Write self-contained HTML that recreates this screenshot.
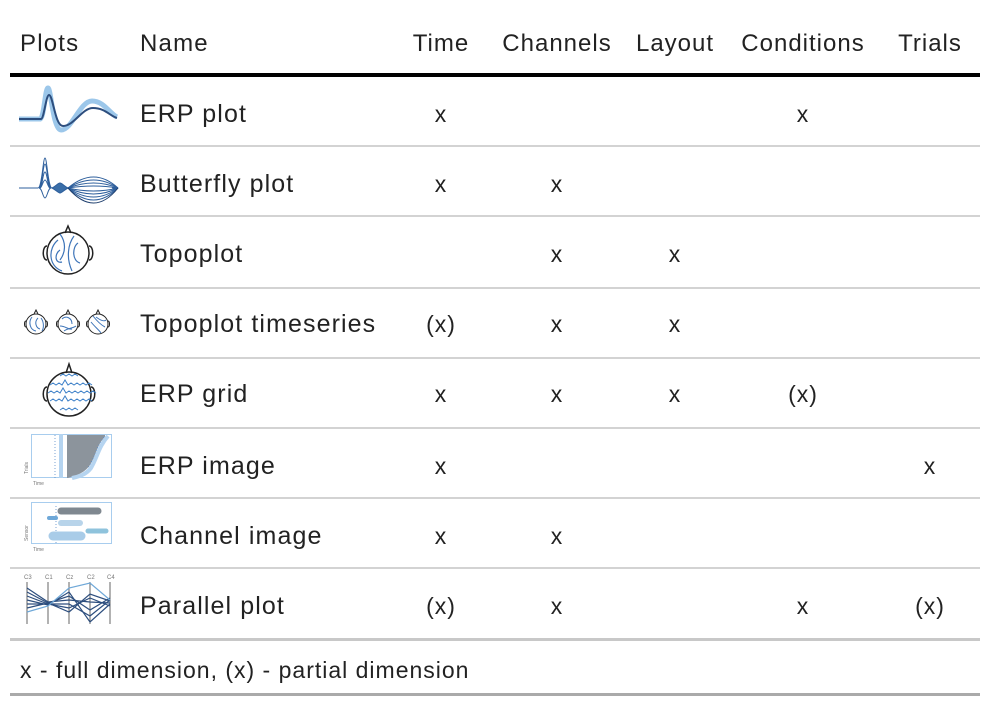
<!DOCTYPE html>
<html><head><meta charset="utf-8"><style>
body{margin:0;width:990px;height:704px;background:#fff;position:relative;font-family:"Liberation Sans",sans-serif;color:#222;overflow:hidden}
.t{position:absolute;font-size:25px;letter-spacing:1.1px;line-height:28px;white-space:nowrap}
.h{position:absolute;font-size:24px;letter-spacing:1.2px;line-height:28px;white-space:nowrap}
.c{position:absolute;font-size:23px;line-height:28px;transform:translateX(-50%);white-space:nowrap;letter-spacing:1px}
.l{position:absolute;left:10px;width:970px;background:#d3d3d3;height:2px}
svg{position:absolute;left:0;top:0}
</style></head><body>
<div class="h" style="left:20px;top:30px">Plots</div>
<div class="h" style="left:140px;top:30px">Name</div>
<div class="c" style="left:441px;top:30px;font-size:24px">Time</div>
<div class="c" style="left:557px;top:30px;font-size:24px">Channels</div>
<div class="c" style="left:675px;top:30px;font-size:24px">Layout</div>
<div class="c" style="left:803px;top:30px;font-size:24px">Conditions</div>
<div class="c" style="left:930px;top:30px;font-size:24px">Trials</div>
<div style="position:absolute;left:10px;top:73px;width:970px;height:4px;background:#000"></div>
<div class="l" style="top:145px"></div><div class="l" style="top:215px"></div><div class="l" style="top:287px"></div><div class="l" style="top:357px"></div><div class="l" style="top:427px"></div><div class="l" style="top:497px"></div><div class="l" style="top:567px"></div>
<div class="l" style="top:638px;height:3px;background:#c8c8c8"></div>
<div class="l" style="top:693px;height:3px;background:#aaa"></div>

<div class="t" style="left:140px;top:100px">ERP plot</div>
<div class="t" style="left:140px;top:170px">Butterfly plot</div>
<div class="t" style="left:140px;top:240px">Topoplot</div>
<div class="t" style="left:140px;top:310px">Topoplot timeseries</div>
<div class="t" style="left:140px;top:380px">ERP grid</div>
<div class="t" style="left:140px;top:452px">ERP image</div>
<div class="t" style="left:140px;top:522px">Channel image</div>
<div class="t" style="left:140px;top:592px">Parallel plot</div>

<div class="c" style="left:441px;top:100px">x</div><div class="c" style="left:803px;top:100px">x</div>
<div class="c" style="left:441px;top:170px">x</div><div class="c" style="left:557px;top:170px">x</div>
<div class="c" style="left:557px;top:240px">x</div><div class="c" style="left:675px;top:240px">x</div>
<div class="c" style="left:441px;top:310px">(x)</div><div class="c" style="left:557px;top:310px">x</div><div class="c" style="left:675px;top:310px">x</div>
<div class="c" style="left:441px;top:380px">x</div><div class="c" style="left:557px;top:380px">x</div><div class="c" style="left:675px;top:380px">x</div><div class="c" style="left:803px;top:380px">(x)</div>
<div class="c" style="left:441px;top:452px">x</div><div class="c" style="left:930px;top:452px">x</div>
<div class="c" style="left:441px;top:522px">x</div><div class="c" style="left:557px;top:522px">x</div>
<div class="c" style="left:441px;top:592px">(x)</div><div class="c" style="left:557px;top:592px">x</div><div class="c" style="left:803px;top:592px">x</div><div class="c" style="left:930px;top:592px">(x)</div>
<div class="t" style="left:20px;top:656px;font-size:23px;letter-spacing:1px">x - full dimension, (x) - partial dimension</div>

<svg width="990" height="704">
<g fill="none">
<!-- ERP -->
<path d="M19 119 H40 C44 119 45 88 48 88 C51 88 53 130 61 130 C72 130 80 101 92 101 C104 101 110 114 117 117" stroke="#9cc7ea" stroke-width="5"/>
<path d="M19 119 H41 C44 119 46 95 49 95 C53 95 55 126 63 126 C74 126 82 108 93 108 C105 108 110 116 117 118" stroke="#2d4e7e" stroke-width="2"/>
<!-- Butterfly -->
<g stroke="#2e5f9c" stroke-width="1">
<path d="M19 188 H38 M118 188 H112"/>
<path d="M38 188 C42 188 43 158 45 158 C47 158 48 188 52 188"/>
<path d="M39 188 C42 188 43 164 45 164 C47 164 48 188 51 188"/>
<path d="M40 188 C42 188 43 172 45 172 C47 172 48 188 50 188"/>
<path d="M40 188 C42 188 43 180 45 180 C47 180 48 188 50 188"/>
<path d="M39 188 C42 188 43 198 45 198 C47 198 48 188 51 188"/>
<path d="M52 188 C56 186 58 183 60 183 C62 183 64 186 68 188 C64 190 62 193 60 193 C58 193 56 190 52 188Z" fill="#3a6ea8"/>
<path d="M68 188 Q94 166 118 188"/><path d="M68 188 Q94 172 118 188"/><path d="M68 188 Q94 178 118 188"/><path d="M68 188 Q94 184 118 188"/>
<path d="M68 188 Q94 194 118 188"/><path d="M68 188 Q94 200 118 188"/><path d="M68 188 Q94 206 118 188"/><path d="M68 188 Q94 212 118 188"/><path d="M68 188 Q94 218 118 188" stroke="#1f3f6e"/>
</g>
<!-- Topoplot -->
<g stroke="#222" stroke-width="1.5">
<circle cx="68" cy="253" r="21"/>
<path d="M65 233 L68 226 L71 233 M47 246 C42 246 42 260 47 260 M89 246 C94 246 94 260 89 260"/>
</g>
<g stroke="#3d74b8" stroke-width="1.2">
<path d="M58 240 C48 248 48 266 62 271 M60 250 C54 254 55 264 62 262 M78 243 C72 247 72 261 80 263 M74 236 C68 244 66 258 72 271 M60 234 C66 242 66 252 60 260"/>
</g>
<!-- Timeseries -->
<g stroke="#222" stroke-width="1">
<circle cx="36" cy="324" r="10"/><circle cx="68" cy="324" r="10"/><circle cx="98" cy="324" r="10"/>
<path d="M34 314 L36 310 L38 314 M66 314 L68 310 L70 314 M96 314 L98 310 L100 314 M26 321 C24 321 24 327 26 327 M46 321 C48 321 48 327 46 327 M58 321 C56 321 56 327 58 327 M78 321 C80 321 80 327 78 327 M88 321 C86 321 86 327 88 327 M108 321 C110 321 110 327 108 327"/>
</g>
<g stroke="#3d74b8" stroke-width="1">
<path d="M32 317 C28 322 30 330 36 331 M38 318 C34 322 36 328 40 329 M41 318 C44 322 44 328 42 331 M62 319 C66 315 72 318 72 324 M60 326 C66 326 68 330 72 329 M64 331 C68 328 74 328 76 326 M93 316 C97 321 101 325 105 327 M91 322 C95 327 99 330 101 333 M96 317 C100 320 104 322 106 320"/>
</g>
<!-- ERP grid -->
<g stroke="#222" stroke-width="1.5">
<circle cx="69" cy="394" r="22"/>
<path d="M66 373 L69 364 L72 373 M47 387 C42 387 42 401 47 401 M91 387 C96 387 96 401 91 401"/>
</g>
<g stroke="#3d80c8" stroke-width="1">
<path d="M60 376 l3-2 3 2 3-2 3 2 3-2 3 2"/>
<path d="M50 385 l3-2 3 2 3-2 3 2 3 -5 3 5 3-2 3 2 3-2 3 2 3-2 3 2 3-2 3 2"/>
<path d="M48 393 l3-2 3 2 3-2 3 2 3 -5 3 5 3-2 3 2 3-2 3 2 3-2 3 2 3-2 3 2 3-2 3 2"/>
<path d="M50 401 l3-2 3 2 3-2 3 2 3 -5 3 5 3-2 3 2 3-2 3 2 3-2 3 2 3-2 3 2"/>
<path d="M60 410 l3-2 3 2 3-2 3 2 3-2 3 2"/>
</g>
<!-- ERP image -->
<rect x="31.5" y="434.5" width="80" height="43" stroke="#a8cdee"/>
<path d="M61 434 V478" stroke="#b5d4f0" stroke-width="4"/>
<path d="M55 435 V478" stroke="#5a8cc8" stroke-dasharray="1 2" stroke-width="0.8"/>
<path d="M67 435 H105 V437 C97 444 96 456 90 465 C84 474 74 476 68 478 H67Z" fill="#8c949c"/>
<path d="M108 436 C99 446 97 458 91 468 C85 476 76 477 72 478" stroke="#b5d4f0" stroke-width="4"/>
<path d="M104 437 C96 447 94 459 88 468" stroke="#5a8cc8" stroke-dasharray="1 2" stroke-width="0.8"/>
<!-- Channel image -->
<rect x="31.5" y="502.5" width="80" height="41" stroke="#a8cdee"/>
<path d="M56 543 V504" stroke="#5a8cc8" stroke-dasharray="1 2" stroke-width="0.8"/>
<g stroke-linecap="round">
<path d="M61 511 H98" stroke="#7f8890" stroke-width="7"/>
<path d="M61 523 H80" stroke="#b8d4ea" stroke-width="6"/>
<path d="M49 518 H56" stroke="#6fa8d8" stroke-width="4"/>
<path d="M88 531 H106" stroke="#8fc3dc" stroke-width="5"/>
<path d="M53 536 H81" stroke="#a9cce8" stroke-width="9"/>
</g>
<!-- Parallel -->
<g stroke="#666" stroke-width="1"><path d="M27 582V624M48 582V624M69 582V624M90 582V624M110 582V624"/></g>
<g stroke="#2d4e7e" stroke-width="1.2">
<path d="M27 588 L48 602 L69 600 L90 602 L110 603"/>
<path d="M27 592 L48 603 L69 596 L90 610 L110 598"/>
<path d="M27 596 L48 604 L69 604 L90 616 L110 600"/>
<path d="M27 600 L48 605 L69 592 L90 622 L110 604"/>
<path d="M27 604 L48 604 L69 608 L90 598 L110 606"/>
<path d="M27 608 L48 603 L69 612 L90 594 L110 601"/>
</g>
<path d="M27 612 L48 606 L69 588 L90 583 L110 600" stroke="#6fa8d8" stroke-width="1.2"/>
</g>
<g font-family="Liberation Sans,sans-serif" font-size="6" fill="#777"><text x="24" y="579">C3</text><text x="45" y="579">C1</text><text x="66" y="579">Cz</text><text x="87" y="579">C2</text><text x="107" y="579">C4</text>
<text x="33" y="485" font-size="5">Time</text><text x="33" y="551" font-size="5">Time</text>
<text transform="translate(28 474) rotate(-90)" font-size="5">Trials</text><text transform="translate(28 541) rotate(-90)" font-size="5">Sensor</text></g>
</svg>
</body></html>
